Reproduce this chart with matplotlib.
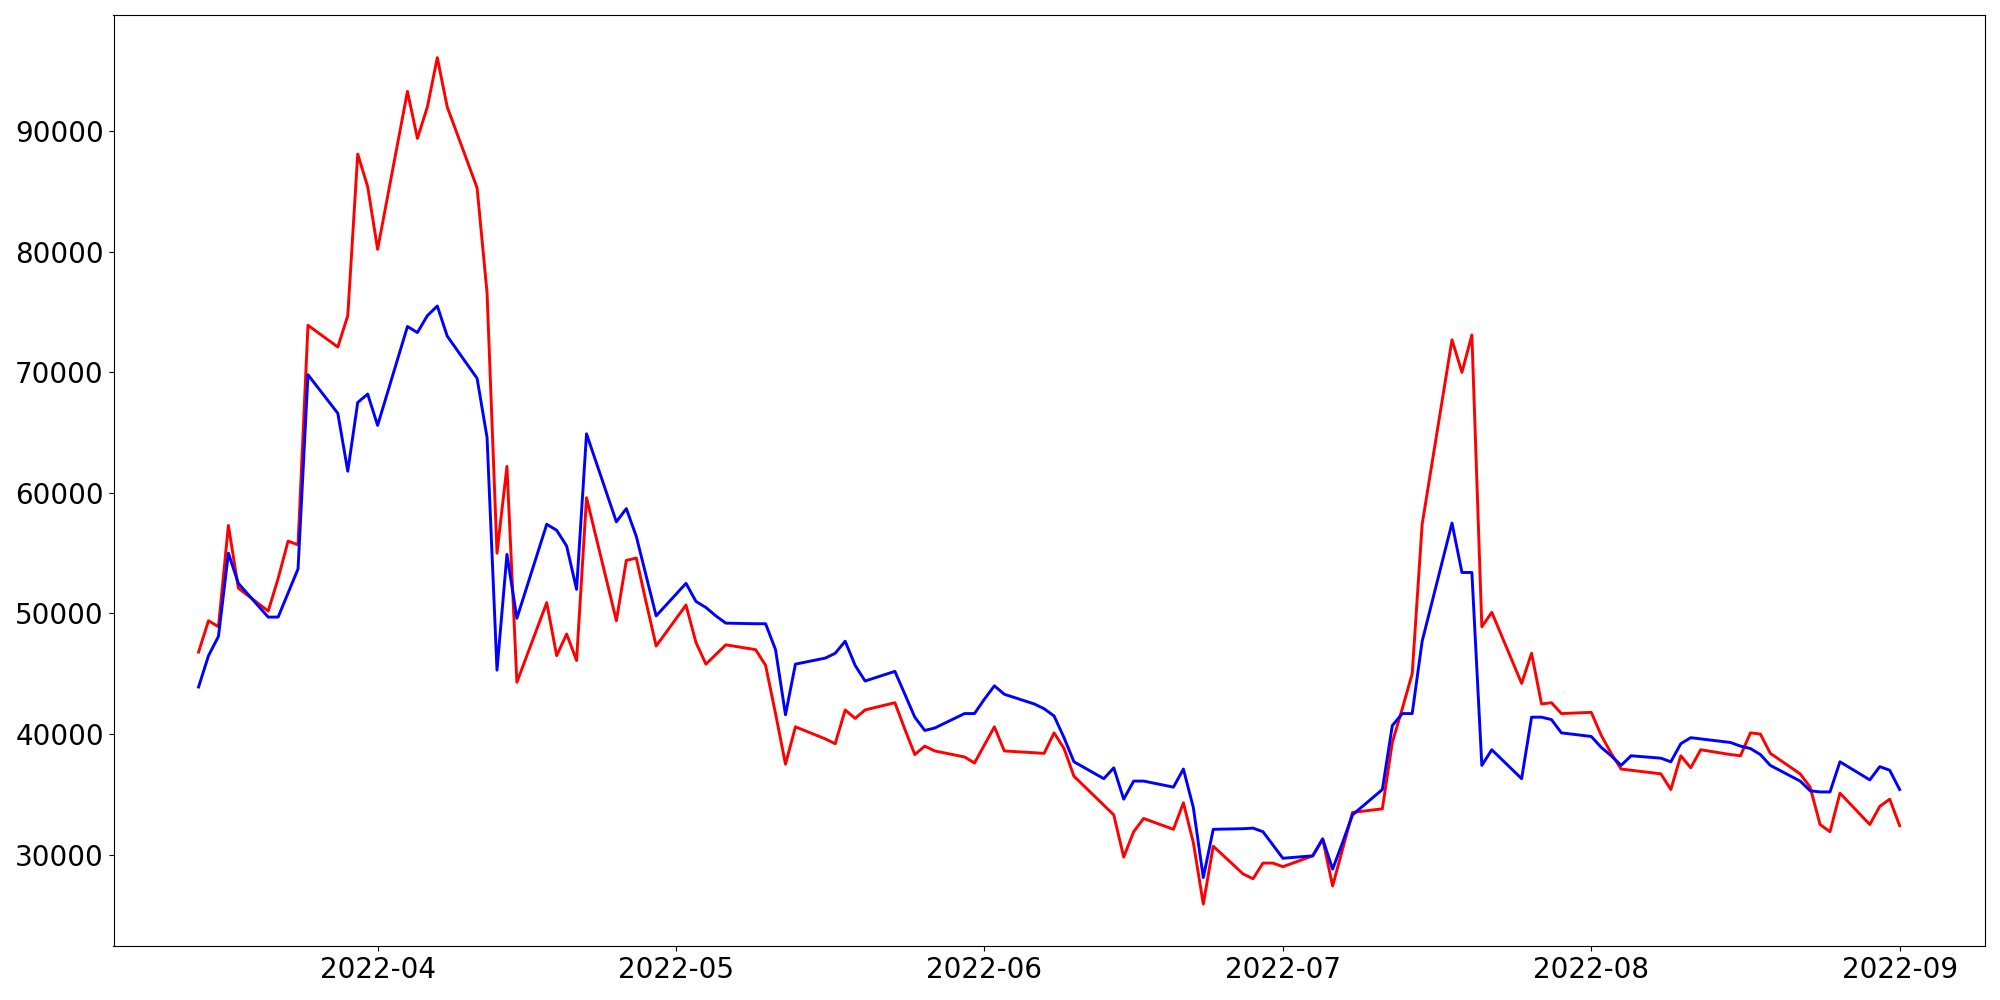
import matplotlib
matplotlib.use("Agg")
import matplotlib.pyplot as plt
import pandas as pd

dates = pd.bdate_range("2022-03-14", "2022-09-01")

red_mar = [46800, 49400, 48900, 57300, 52100, 50200, 52900, 56000, 55700, 73900, 72100, 74700, 88100, 85400]
red_apr = [80200, 93300, 89400, 92000, 96100, 92000, 85300, 76600, 55000, 62200, 44300, 50900, 46500, 48300,
           46100, 59600, 49400, 54400, 54600, 50900, 47300]
red_may = [50700, 47600, 45800, 46600, 47400, 47000, 45700, 41700, 37500, 40600, 39600, 39200, 42000, 41300,
           42000, 42600, 40400, 38300, 39000, 38600, 38100, 37600]
red_jun = [39100, 40600, 38600, 38450, 38400, 40100, 38800, 36500, 34100, 33300, 29800, 31900, 33000, 32100,
           34300, 31000, 25900, 30700, 28400, 28000, 29300, 29300]
red_jul = [29000, 29900, 31300, 27400, 30450, 33500, 33800, 39300, 42100, 45000, 57400, 72700, 70000, 73100,
           48900, 50100, 44200, 46700, 42500, 42600, 41700]
red_aug = [41800, 39900, 38400, 37100, 37000, 36700, 35400, 38200, 37200, 38700, 38300, 38200, 40100, 40000,
           38400, 36700, 35600, 32500, 31900, 35100, 32500, 34000, 34600]
red_sep = [32400]

blue_mar = [43900, 46500, 48100, 55000, 52500, 49700, 49700, 51700, 53700, 69800, 66600, 61800, 67500, 68200]
blue_apr = [65600, 73800, 73300, 74700, 75500, 73000, 69500, 64600, 45300, 54900, 49600, 57400, 56900, 55600,
            52000, 64900, 57600, 58700, 56400, 53100, 49800]
blue_may = [52500, 51000, 50500, 49800, 49200, 49150, 49150, 47000, 41600, 45800, 46300, 46700, 47700, 45700,
            44400, 45200, 43300, 41400, 40300, 40500, 41700, 41700]
blue_jun = [42900, 44000, 43300, 42500, 42100, 41500, 39700, 37700, 36300, 37200, 34600, 36100, 36100, 35600,
            37100, 33900, 28100, 32100, 32150, 32200, 31900, 30800]
blue_jul = [29700, 29900, 31300, 28800, 31000, 33300, 35400, 40700, 41700, 41700, 47700, 57500, 53400, 53400,
            37400, 38700, 36300, 41400, 41400, 41200, 40100]
blue_aug = [39800, 38900, 38200, 37400, 38200, 38000, 37700, 39200, 39700, 39600, 39300, 39000, 38800, 38300,
            37400, 36100, 35300, 35200, 35200, 37700, 36200, 37300, 37000]
blue_sep = [35400]

red = red_mar + red_apr + red_may + red_jun + red_jul + red_aug + red_sep
blue = blue_mar + blue_apr + blue_may + blue_jun + blue_jul + blue_aug + blue_sep

fig = plt.figure(figsize=(20, 10), dpi=100)
ax = fig.add_axes([113.5 / 2000, 1 - 946.4 / 1000, (1984.7 - 113.5) / 2000, (946.4 - 15.3) / 1000])
ax.plot(dates, red, color="red", linewidth=2.1)
ax.plot(dates, blue, color="blue", linewidth=2.1)
ax.tick_params(axis="both", labelsize=20)
fig.savefig("out.png", dpi=100)
